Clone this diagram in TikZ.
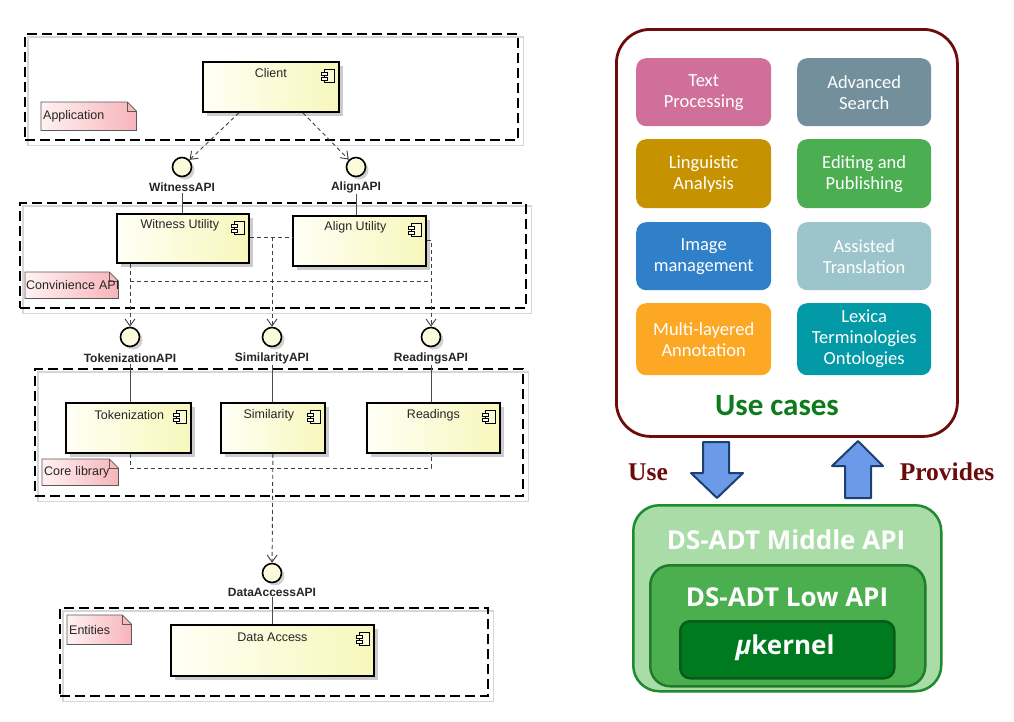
\documentclass[tikz,border=0pt]{standalone}
\usepackage{fontspec}
\setmainfont{Liberation Sans}
\newfontfamily\carlito{Carlito}
\newfontfamily\osans{Open Sans}
\newfontfamily\serifb{Liberation Serif}
\usetikzlibrary{arrows.meta,calc,shadows}
\pgfdeclarelayer{bg}
\pgfsetlayers{bg,main}
\definecolor{compl}{HTML}{FFFFF6}
\definecolor{compr}{HTML}{F7F7BC}
\definecolor{apifill}{HTML}{FCFCDC}
\definecolor{notel}{HTML}{FFF2F2}
\definecolor{noter}{HTML}{F7B4BA}
\definecolor{ucred}{HTML}{6E0B0B}
\definecolor{ucgreen}{HTML}{0D7A1C}
\definecolor{tpc}{HTML}{D0709A}
\definecolor{asc}{HTML}{738F9C}
\definecolor{lac}{HTML}{C79200}
\definecolor{epc}{HTML}{4BAE50}
\definecolor{imc}{HTML}{2F7FC9}
\definecolor{atc}{HTML}{9CC5CB}
\definecolor{mac}{HTML}{FDA825}
\definecolor{lxc}{HTML}{039AA8}
\definecolor{arrfill}{HTML}{6B9BE8}
\definecolor{arrdraw}{HTML}{1D3F73}
\definecolor{midfill}{HTML}{A9DCA6}
\definecolor{middraw}{HTML}{1E8B2F}
\definecolor{lowfill}{HTML}{4BAE4F}
\definecolor{lowdraw}{HTML}{1F7D2A}
\definecolor{ukfill}{HTML}{007A1E}
\definecolor{ukdraw}{HTML}{0A5A18}
\definecolor{lbred}{HTML}{6B0A0A}
\newcommand\cicon[1]{%
  \draw[line width=0.7pt, fill=compr!60!white] ([xshift=-15pt,yshift=-8pt]#1.north east) rectangle ([xshift=-5pt,yshift=-21pt]#1.north east);
  \draw[line width=0.7pt, fill=compl] ([xshift=-18pt,yshift=-11pt]#1.north east) rectangle ([xshift=-12pt,yshift=-14pt]#1.north east);
  \draw[line width=0.7pt, fill=compl] ([xshift=-18pt,yshift=-16pt]#1.north east) rectangle ([xshift=-12pt,yshift=-19pt]#1.north east);
}
\newcommand\notebg[1]{%
  \begin{pgfonlayer}{bg}
  \fill[black!14, shift={(3pt,-3pt)}] (#1.north west) -- ([xshift=-9pt]#1.north east) -- ([yshift=-9pt]#1.north east) -- (#1.south east) -- (#1.south west) -- cycle;
  \shadedraw[left color=notel, right color=noter, draw=black!65, line width=0.8pt] (#1.north west) -- ([xshift=-9pt]#1.north east) -- ([yshift=-9pt]#1.north east) -- (#1.south east) -- (#1.south west) -- cycle;
  \draw[black!65, line width=0.8pt] ([xshift=-9pt]#1.north east) |- ([yshift=-9pt]#1.north east);
  \end{pgfonlayer}
}
\newcommand\pkgbg[1]{%
  \begin{pgfonlayer}{bg}
  \draw[black!16, line width=1.6pt] ([shift={(4pt,-4pt)}]#1.north west) rectangle ([shift={(4pt,-4pt)}]#1.south east);
  \end{pgfonlayer}
}
\begin{document}
\begin{tikzpicture}[x=1pt,y=-1pt,
  pkg/.style={draw=black, line width=2.4pt, dash pattern=on 10pt off 5pt, rectangle, inner sep=0pt, anchor=north west},
  comp/.style={draw=black, line width=1.8pt, rectangle, inner sep=0pt, anchor=north west, left color=compl, right color=compr,
     drop shadow={shadow xshift=4pt, shadow yshift=-4pt, fill=black!20, opacity=1}},
  comptext/.style={font=\fontsize{12.5}{14}\selectfont, text=black!85, inner sep=0pt},
  api/.style={circle, draw=black, line width=1.6pt, fill=apifill, minimum size=19pt, inner sep=0pt,
     drop shadow={shadow xshift=3pt, shadow yshift=-3pt, fill=black!18, opacity=1}},
  apilbl/.style={font=\bfseries\fontsize{12}{14}\selectfont, text=black!85, inner sep=1pt},
  dep/.style={draw=black!75, line width=0.9pt, dash pattern=on 4pt off 3pt, -{Straight Barb[length=7pt,width=10pt,line width=0.9pt]}},
  depline/.style={draw=black!75, line width=0.9pt, dash pattern=on 4pt off 3pt},
  solidc/.style={draw=black!70, line width=0.9pt},
  note/.style={rectangle, inner sep=2pt, anchor=north west, font=\fontsize{12.5}{14}\selectfont, align=left, text=black!85},
  tile/.style={rounded corners=10pt, inner sep=0pt, text=white, font=\carlito\fontsize{18.5}{21}\selectfont, align=center, anchor=north west},
  grbox/.style={line width=2.5pt, inner sep=0pt, anchor=north west},
  grtext/.style={text=white, font=\osans\bfseries\fontsize{26}{30}\selectfont, inner sep=0pt},
  blarrow/.style={fill=arrfill, draw=arrdraw, line width=2pt, line join=round},
  sidelbl/.style={text=lbred, font=\serifb\bfseries\fontsize{25.5}{30}\selectfont, inner sep=0pt}
]
\begin{pgfonlayer}{bg}
\fill[white] (0,0) rectangle (1014,721);
\end{pgfonlayer}
\useasboundingbox (0,0) rectangle (1014,721);

% ---------------- packages
\node[pkg, minimum width=493pt, minimum height=106pt] (app) at (24,33) {};
\node[pkg, minimum width=506pt, minimum height=105pt] (conv) at (19,202) {};
\node[pkg, minimum width=488pt, minimum height=127pt] (core) at (34,368) {};
\node[pkg, minimum width=428pt, minimum height=88pt] (ent) at (59,607) {};
\pkgbg{app}\pkgbg{conv}\pkgbg{core}\pkgbg{ent}

% ---------------- notes
\node[note, text width=91pt, minimum height=28pt] (appN) at (41,102) {Application};
\node[note, text width=91pt, minimum height=26pt, inner xsep=1pt] (convN) at (25,272) {\rlap{Convinience API}};
\node[note, text width=72pt, minimum height=26pt] (coreN) at (42,459) {Core library};
\node[note, text width=60pt, minimum height=29pt] (entN) at (67,615) {Entities};
\notebg{appN}\notebg{convN}\notebg{coreN}\notebg{entN}

% ---------------- components
\node[comp, minimum width=136pt, minimum height=50pt] (client) at (202,61) {};
\node[comp, minimum width=132pt, minimum height=49pt] (wu) at (116,213) {};
\node[comp, minimum width=133pt, minimum height=50pt] (au) at (292,215) {};
\node[comp, minimum width=125pt, minimum height=50pt] (tok) at (65,402) {};
\node[comp, minimum width=104pt, minimum height=50pt] (sim) at (220,402) {};
\node[comp, minimum width=133pt, minimum height=50pt] (read) at (366,402) {};
\node[comp, minimum width=203pt, minimum height=51pt] (da) at (170,624) {};
\foreach \c in {client,wu,au,tok,sim,read,da}{\cicon{\c}}
\node[comptext] (clientT) at ([yshift=-12pt]client.north) {Client};
\node[comptext] (wuT) at ([yshift=-12pt,xshift=-3pt]wu.north) {Witness Utility};
\node[comptext] (auT) at ([yshift=-12pt,xshift=-4pt]au.north) {Align Utility};
\node[comptext] (tokT) at ([yshift=-13pt,xshift=1pt]tok.north) {Tokenization};
\node[comptext] (simT) at ([yshift=-13pt,xshift=-4pt]sim.north) {Similarity};
\node[comptext] (readT) at ([yshift=-13pt]read.north) {Readings};
\node[comptext] (daT) at ([yshift=-13pt]da.north) {Data Access};

% ---------------- interfaces
\node[api] (wapi) at (182,167) {};
\node[api] (aapi) at (356,167) {};
\node[api] (tapi) at (130,337) {};
\node[api] (sapi) at (272,337) {};
\node[api] (rapi) at (431,337) {};
\node[api] (dapi) at (272,573) {};
\node[apilbl] (wapiL) at (182,187) {WitnessAPI};
\node[apilbl] (aapiL) at (356,187) {AlignAPI};
\node[apilbl] (tapiL) at (130,358) {TokenizationAPI};
\node[apilbl] (sapiL) at (272,358) {SimilarityAPI};
\node[apilbl] (rapiL) at (431,358) {ReadingsAPI};
\node[apilbl] (dapiL) at (272,592) {DataAccessAPI};

% provided interface lines
\draw[solidc] (wapiL.south) -- (wapiL.south |- wu.north);
\draw[solidc] (aapiL.south) -- (aapiL.south |- au.north);
\draw[solidc] (tapiL.south) -- (tapiL.south |- tok.north);
\draw[solidc] (sapiL.south) -- (sapiL.south |- sim.north);
\draw[solidc] (rapiL.south) -- (rapiL.south |- read.north);
\draw[solidc] (dapiL.south) -- (dapiL.south |- da.north);

% dependencies
\draw[dep] ([xshift=-32pt]client.south) -- (wapi);
\draw[dep] ([xshift=32pt]client.south) -- (aapi);
\coordinate (j1) at (272,237);
\coordinate (hc) at (272,281);
\coordinate (hc2) at (272,468);
\draw[depline] ([yshift=-24pt]wu.north east) -- ([yshift=-22pt]au.north west);
\draw[dep] (j1) -- (sapi);
\draw[dep] ([yshift=-25pt]au.north east) -| (rapi);
\draw[dep] (tapi |- wu.south) -- (tapi);
\draw[depline] (tapi |- hc) -- (rapi |- hc);
\draw[depline] (tapi |- tok.south) |- (hc2) -| (rapi |- read.south);
\draw[dep] (sim.south) -- (dapi);

% ---------------- use cases
\node[draw=ucred, line width=2.8pt, rounded corners=34pt, minimum width=341pt, minimum height=407pt, anchor=north west, inner sep=0pt] (uc) at (615,28) {};
\node[tile, fill=tpc, minimum width=135pt, minimum height=68pt] (tp) at (636,58) {Text\\Processing};
\node[tile, fill=asc, minimum width=134pt, minimum height=68pt] (as) at (797,58) {Advanced\\Search};
\node[tile, fill=lac, minimum width=135pt, minimum height=69pt] (la) at (636,139) {Linguistic\\Analysis};
\node[tile, fill=epc, minimum width=134pt, minimum height=69pt] (ep) at (797,139) {Editing and\\Publishing};
\node[tile, fill=imc, minimum width=135pt, minimum height=68pt] (im) at (636,222) {Image\\management};
\node[tile, fill=atc, minimum width=134pt, minimum height=68pt] (at) at (797,222) {Assisted\\Translation};
\node[tile, fill=mac, minimum width=135pt, minimum height=72pt] (ma) at (636,303) {Multi-layered\\Annotation};
\node[tile, fill=lxc, minimum width=134pt, minimum height=72pt] (lx) at (797,303) {Lexica\\Terminologies\\Ontologies};
\node[text=ucgreen, font=\carlito\bfseries\fontsize{31}{34}\selectfont, inner sep=0pt] (ucT) at (777,406) {Use cases};

% ---------------- arrows
\draw[blarrow] (703,442) -- (729,442) -- (729,473) -- (743,473) -- (717,498) -- (691,473) -- (703,473) -- cycle;
\draw[blarrow] (858,441) -- (883,466) -- (871,466) -- (871,498) -- (845,498) -- (845,466) -- (832,466) -- cycle;
\node[sidelbl] (useL) at (648,472) {Use};
\node[sidelbl] (provL) at (947,472) {Provides};

% ---------------- API stack
\node[grbox, draw=middraw, fill=midfill, rounded corners=26pt, minimum width=308pt, minimum height=186pt] (mid) at (632,504) {};
\node[grbox, draw=lowdraw, fill=lowfill, rounded corners=20pt, minimum width=275pt, minimum height=121pt] (low) at (649,564) {};
\node[grbox, draw=ukdraw, fill=ukfill, rounded corners=10pt, minimum width=214pt, minimum height=57pt] (uk) at (679,620) {};
\node[grtext] (midT) at (786,540) {DS-ADT Middle API};
\node[grtext] (lowT) at (787,597) {DS-ADT Low API};
\node[grtext] (ukT) at (785,648) {{\itshape µ}kernel};
\end{tikzpicture}
\end{document}
